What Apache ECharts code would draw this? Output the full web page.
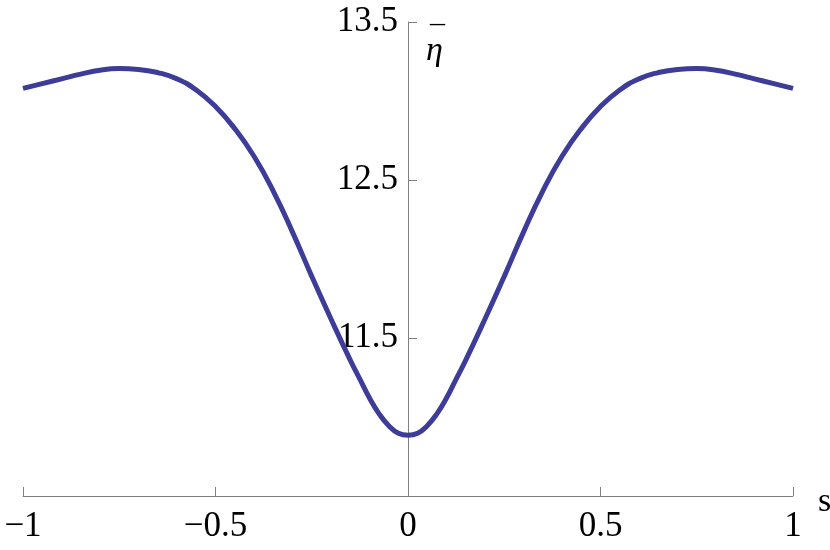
<!DOCTYPE html>
<html>
<head>
<meta charset="utf-8">
<script src="https://cdn.jsdelivr.net/npm/echarts@6/dist/echarts.min.js"></script>
<style>
  html, body { margin: 0; padding: 0; background: #fff; }
  #main { width: 830px; height: 550px; }
</style>
</head>
<body>
<div id="main"></div>
<script>
// s values and eta-bar (curve is symmetric)
var sVals = [-1, -0.95, -0.9, -0.85, -0.8, -0.75, -0.7, -0.65, -0.6, -0.55, -0.5,
  -0.45, -0.4, -0.35, -0.3, -0.25, -0.2, -0.15, -0.125, -0.1, -0.075, -0.05, -0.025, 0,
  0.025, 0.05, 0.075, 0.1, 0.125, 0.15, 0.2, 0.25, 0.3, 0.35, 0.4, 0.45, 0.5,
  0.55, 0.6, 0.65, 0.7, 0.75, 0.8, 0.85, 0.9, 0.95, 1];
var etaVals = [13.08, 13.11, 13.14, 13.17, 13.195, 13.205, 13.2, 13.18, 13.14, 13.07, 12.965,
  12.825, 12.65, 12.43, 12.17, 11.89, 11.62, 11.36, 11.24, 11.12, 11.02, 10.945, 10.897, 10.884,
  10.897, 10.945, 11.02, 11.12, 11.24, 11.36, 11.62, 11.89, 12.17, 12.43, 12.65, 12.825, 12.965,
  13.07, 13.14, 13.18, 13.2, 13.205, 13.195, 13.17, 13.14, 13.11, 13.08];
var xTicks = [-1, -0.5, 0, 0.5, 1];
var yTicks = [11.5, 12.5, 13.5];

var pts = sVals.map(function (s, i) { return [s, etaVals[i]]; });
var serif = '"Liberation Serif", "DejaVu Serif", serif';

function fmtX(v) {
  if (v === 0) return '0';
  return (v < 0 ? '\u2212' : '') + String(Math.abs(v));
}

var gridLeft = 23, gridRight = 37;
var plotW = 830 - gridLeft - gridRight;

var chart = echarts.init(document.getElementById('main'));
chart.setOption({
  animation: false,
  backgroundColor: '#fff',
  grid: { left: gridLeft, right: gridRight, top: 22, bottom: 54, outerBoundsMode: 'none' },
  xAxis: {
    type: 'value',
    min: -1, max: 1, interval: 0.5,
    name: ' \ns',
    nameLocation: 'end',
    nameGap: 25,
    nameTextStyle: { fontFamily: serif, fontSize: 34, color: '#000', lineHeight: 12 },
    axisLine: { onZero: false, lineStyle: { color: '#7f7f7f', width: 1 } },
    axisTick: { inside: true, length: 9, lineStyle: { color: '#7f7f7f' } },
    axisLabel: {
      fontFamily: serif, fontSize: 35, color: '#000', margin: 13,
      formatter: function (v) { return xTicks.indexOf(v) >= 0 ? fmtX(v) : ''; }
    },
    splitLine: { show: false }
  },
  yAxis: {
    type: 'value',
    min: 10.5, max: 13.5, interval: 1,
    // put the vertical axis at s = 0
    offset: -plotW / 2,
    name: '{m|\u00af}\n{e|\u03b7}',
    nameLocation: 'end',
    nameGap: -35,
    nameTextStyle: {
      align: 'left', verticalAlign: 'bottom', padding: [0, 0, 0, 18],
      rich: {
        m: { fontFamily: serif, fontSize: 30, color: '#000', lineHeight: 14, padding: [0, 0, 0, 4] },
        e: { fontFamily: serif, fontSize: 34, fontStyle: 'italic', color: '#000', lineHeight: 12 }
      }
    },
    axisLine: { onZero: false, lineStyle: { color: '#7f7f7f', width: 1 } },
    axisTick: { inside: true, length: 9, lineStyle: { color: '#7f7f7f' } },
    axisLabel: {
      fontFamily: serif, fontSize: 35, color: '#000', margin: 10,
      formatter: function (v) {
        for (var i = 0; i < yTicks.length; i++) {
          if (Math.abs(yTicks[i] - v) < 1e-9) return yTicks[i].toFixed(1);
        }
        return '';
      }
    },
    splitLine: { show: false }
  },
  series: [{
    type: 'line',
    data: pts,
    smooth: true,
    showSymbol: false,
    lineStyle: { color: '#3d3d99', width: 5 },
    z: 1
  }]
});
</script>
</body>
</html>
